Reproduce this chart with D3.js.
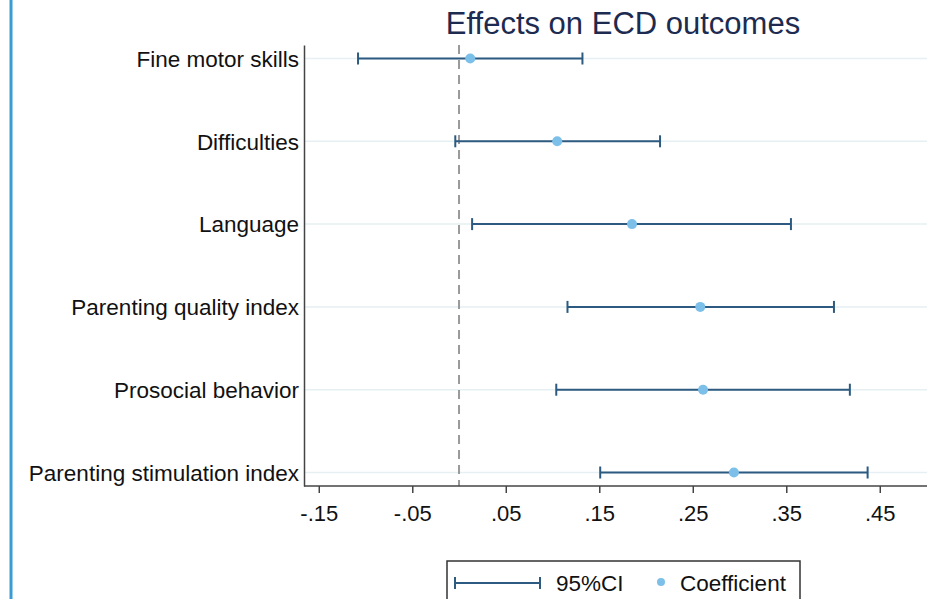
<!DOCTYPE html>
<html>
<head>
<meta charset="utf-8">
<script src="https://cdn.jsdelivr.net/npm/d3@7"></script>
<style>
  body { margin: 0; background: #fff; }
  svg { display: block; font-family: "Liberation Sans", Arial, sans-serif; }
</style>
</head>
<body>
<div id="chart"></div>
<script>
var outcomes = ["Fine motor skills", "Difficulties", "Language", "Parenting quality index",
                "Prosocial behavior", "Parenting stimulation index"];
var coefs   = [0.012, 0.105, 0.185, 0.258, 0.261, 0.294];
var ciLow   = [-0.108, -0.004, 0.014, 0.116, 0.104, 0.151];
var ciHigh  = [0.132, 0.215, 0.355, 0.401, 0.418, 0.437];
var xTicks  = [-0.15, -0.05, 0.05, 0.15, 0.25, 0.35, 0.45];

var width = 927, height = 599;
var plot = {left: 304, top: 45, bottom: 486};

var svg = d3.select("#chart").append("svg")
    .attr("width", width)
    .attr("height", height);

/* left accent line */
svg.append("line")
    .attr("x1", 11).attr("x2", 11)
    .attr("y1", 0).attr("y2", height)
    .attr("stroke", "#3b9bd3").attr("stroke-width", 3);

/* Scales */
var x = d3.scaleLinear()
    .domain([-0.1658, 0.53])
    .range([plot.left, plot.left + 0.6958 * 935]);
var y = d3.scalePoint()
    .domain(outcomes)
    .range([plot.top, plot.bottom])
    .padding(0.163);

var rows = outcomes.map(function(d, i) {
    return {name: d, b: coefs[i], lo: ciLow[i], hi: ciHigh[i]};
});

/* Gridlines */
svg.append("g").selectAll("line")
    .data(outcomes)
    .enter().append("line")
        .attr("x1", plot.left).attr("x2", width)
        .attr("y1", function(d) { return y(d); })
        .attr("y2", function(d) { return y(d); })
        .attr("stroke", "#e6eff1").attr("stroke-width", 1.5);

/* Zero line */
svg.append("line")
    .attr("x1", x(0)).attr("x2", x(0))
    .attr("y1", plot.top).attr("y2", plot.bottom)
    .attr("stroke", "#9a9a9a").attr("stroke-width", 2)
    .attr("stroke-dasharray", "9,6");

/* Title */
svg.append("text")
    .attr("x", 623).attr("y", 34)
    .attr("text-anchor", "middle")
    .attr("font-size", 31)
    .attr("fill", "#1c2b4f")
    .text("Effects on ECD outcomes");

/* Axes */
var xAxis = d3.axisBottom(x)
    .tickValues(xTicks)
    .tickSize(7)
    .tickPadding(12)
    .tickFormat(function(d) { return d3.format(".2f")(d).replace("0.", ".").replace("\u2212", "-"); });
var gx = svg.append("g")
    .attr("transform", "translate(0," + plot.bottom + ")")
    .call(xAxis);
gx.select(".domain").attr("d", "M" + plot.left + ",0H" + width).attr("stroke", "#444").attr("stroke-width", 1.5);
gx.selectAll(".tick line").attr("stroke", "#444").attr("stroke-width", 1.5);
gx.selectAll(".tick text").attr("font-size", 22).attr("fill", "#111").attr("font-family", "Liberation Sans, Arial, sans-serif");

var yAxis = d3.axisLeft(y).tickSize(0).tickPadding(5);
var gy = svg.append("g")
    .attr("transform", "translate(" + plot.left + ",0)")
    .call(yAxis);
gy.select(".domain").attr("stroke", "#444").attr("stroke-width", 1.5);
gy.selectAll(".tick text").attr("font-size", 22.5).attr("fill", "#111").attr("dy", "0.35em").attr("font-family", "Liberation Sans, Arial, sans-serif");

/* CI bars */
var ciColor = "#2c5a80", ptColor = "#7cc0ea";
var bars = svg.append("g").selectAll("g")
    .data(rows)
    .enter().append("g")
        .attr("transform", function(d) { return "translate(0," + y(d.name) + ")"; });
bars.append("line")
    .attr("x1", function(d) { return x(d.lo); })
    .attr("x2", function(d) { return x(d.hi); })
    .attr("stroke", ciColor).attr("stroke-width", 2);
bars.append("line")
    .attr("x1", function(d) { return x(d.lo); })
    .attr("x2", function(d) { return x(d.lo); })
    .attr("y1", -6).attr("y2", 6)
    .attr("stroke", ciColor).attr("stroke-width", 2);
bars.append("line")
    .attr("x1", function(d) { return x(d.hi); })
    .attr("x2", function(d) { return x(d.hi); })
    .attr("y1", -6).attr("y2", 6)
    .attr("stroke", ciColor).attr("stroke-width", 2);
bars.append("circle")
    .attr("cx", function(d) { return x(d.b); })
    .attr("r", 5)
    .attr("fill", ptColor);

/* Legend */
var legend = svg.append("g").attr("transform", "translate(447,561)");
legend.append("rect")
    .attr("width", 353).attr("height", 60)
    .attr("fill", "#fff").attr("stroke", "#333").attr("stroke-width", 1.5);
legend.append("line").attr("x1", 8).attr("x2", 93).attr("y1", 22).attr("y2", 22)
    .attr("stroke", ciColor).attr("stroke-width", 2);
legend.append("line").attr("x1", 8).attr("x2", 8).attr("y1", 16).attr("y2", 28)
    .attr("stroke", ciColor).attr("stroke-width", 2);
legend.append("line").attr("x1", 93).attr("x2", 93).attr("y1", 16).attr("y2", 28)
    .attr("stroke", ciColor).attr("stroke-width", 2);
legend.append("text").attr("x", 109).attr("y", 30).attr("font-size", 22.5).attr("fill", "#111").text("95%CI");
legend.append("circle").attr("cx", 214).attr("cy", 21).attr("r", 4).attr("fill", ptColor);
legend.append("text").attr("x", 233).attr("y", 30).attr("font-size", 22.5).attr("fill", "#111").text("Coefficient");
</script>
</body>
</html>
